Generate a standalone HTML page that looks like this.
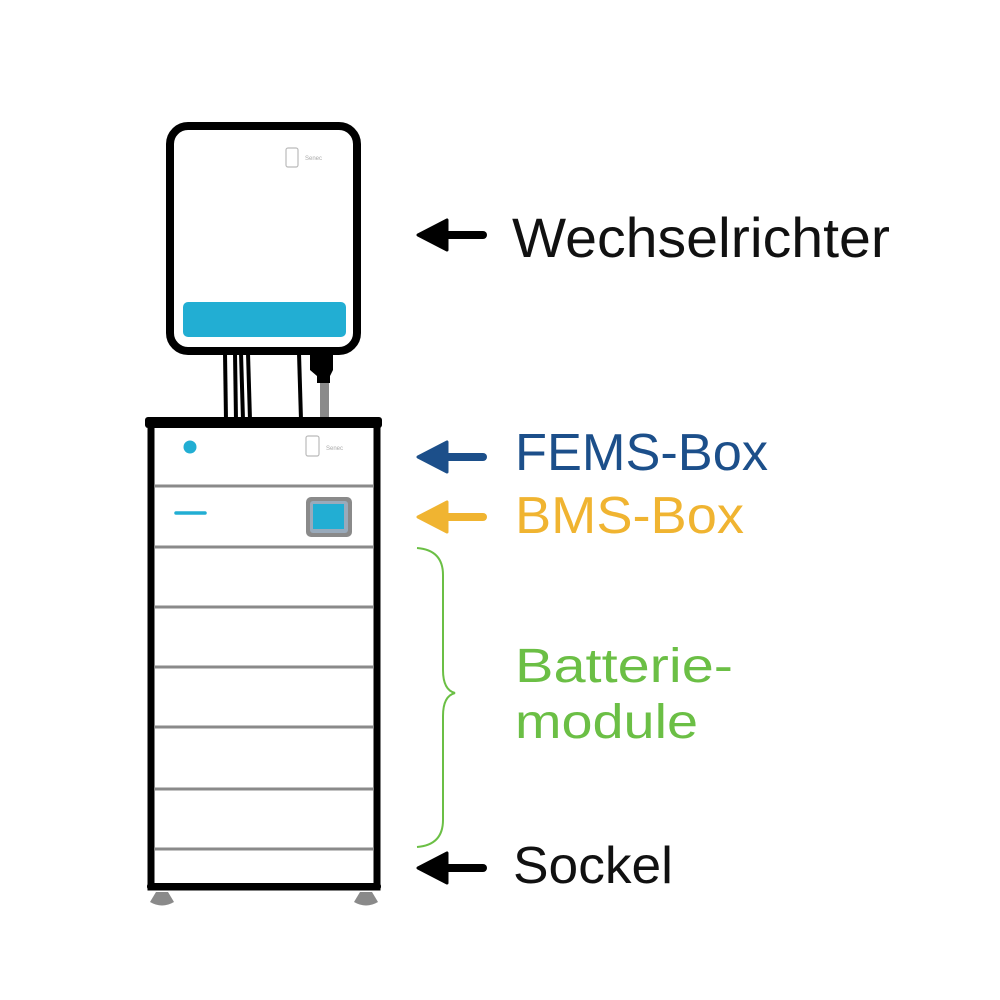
<!DOCTYPE html>
<html><head><meta charset="utf-8"><style>
html,body{margin:0;padding:0;background:#fff;}
svg{display:block;}
text{font-family:"Liberation Sans",sans-serif;}
</style></head><body>
<svg width="1000" height="1000" viewBox="0 0 1000 1000" xmlns="http://www.w3.org/2000/svg">
<rect width="1000" height="1000" fill="#fff"/>
<!-- cables -->
<g stroke="#000" stroke-width="4" fill="none">
<line x1="225" y1="353" x2="226" y2="420"/>
<line x1="235" y1="353" x2="236" y2="420"/>
<line x1="241" y1="353" x2="243" y2="420"/>
<line x1="248" y1="353" x2="250" y2="420"/>
<line x1="299" y1="353" x2="301" y2="420"/>
</g>
<rect x="320" y="380" width="9" height="40" fill="#8a8a8a"/>
<path d="M310 353 H333 V370 L330 376 V383 H317 V376 L310 370 Z" fill="#000"/>
<!-- inverter -->
<rect x="170" y="126" width="187" height="225" rx="18" ry="18" fill="#fff" stroke="#000" stroke-width="8"/>
<rect x="183" y="302" width="163" height="35" rx="5" fill="#22aed3"/>
<rect x="286" y="148" width="12" height="19" rx="2" fill="none" stroke="#bbb" stroke-width="1.2"/>
<text x="305" y="160" font-size="6" fill="#aaa">Senec</text>
<!-- cabinet -->
<rect x="151" y="424" width="226" height="463" fill="#fff" stroke="#000" stroke-width="7"/>
<rect x="145" y="417" width="237" height="11" rx="3" fill="#000"/>
<rect x="147" y="883" width="234" height="7" rx="3" fill="#000"/>
<g stroke="#8a8a8a" stroke-width="3">
<line x1="154" y1="486" x2="374" y2="486"/>
<line x1="154" y1="547" x2="374" y2="547"/>
<line x1="154" y1="607" x2="374" y2="607"/>
<line x1="154" y1="667" x2="374" y2="667"/>
<line x1="154" y1="727" x2="374" y2="727"/>
<line x1="154" y1="789" x2="374" y2="789"/>
<line x1="154" y1="849" x2="374" y2="849"/>
</g>
<circle cx="190" cy="447" r="6.5" fill="#22aed3"/>
<rect x="306" y="436" width="13" height="20" rx="2" fill="none" stroke="#bbb" stroke-width="1.2"/>
<text x="326" y="450" font-size="6" fill="#aaa">Senec</text>
<line x1="176" y1="513" x2="205" y2="513" stroke="#22aed3" stroke-width="3.5" stroke-linecap="round"/>
<rect x="306" y="497" width="46" height="40" rx="5" fill="#8a8a8a"/>
<rect x="310" y="501" width="38" height="32" rx="3" fill="#9ab"/>
<rect x="313" y="504" width="31" height="25" fill="#22aed3"/>
<!-- feet -->
<path d="M156 892 H168 L174 902 Q162 909 150 902 Z" fill="#8a8a8a"/>
<path d="M360 892 H372 L378 902 Q366 909 354 902 Z" fill="#8a8a8a"/>
<!-- arrows -->
<g>
<line x1="442" y1="235" x2="483" y2="235" stroke="#000" stroke-width="8" stroke-linecap="round"/>
<path d="M418 235 L447 220 L447 250 Z" fill="#000" stroke="#000" stroke-width="3" stroke-linejoin="round"/>
<line x1="442" y1="457" x2="483" y2="457" stroke="#1c4f8a" stroke-width="8" stroke-linecap="round"/>
<path d="M418 457 L447 442 L447 472 Z" fill="#1c4f8a" stroke="#1c4f8a" stroke-width="3" stroke-linejoin="round"/>
<line x1="442" y1="517" x2="483" y2="517" stroke="#f0b431" stroke-width="8" stroke-linecap="round"/>
<path d="M418 517 L447 502 L447 532 Z" fill="#f0b431" stroke="#f0b431" stroke-width="3" stroke-linejoin="round"/>
<line x1="442" y1="868" x2="483" y2="868" stroke="#000" stroke-width="8" stroke-linecap="round"/>
<path d="M418 868 L447 853 L447 883 Z" fill="#000" stroke="#000" stroke-width="3" stroke-linejoin="round"/>
</g>
<!-- brace -->
<path d="M417 548 Q443 550 443 575 V670 Q443 690 455 693 Q443 696 443 716 V820 Q443 845 417 847" fill="none" stroke="#6bbf45" stroke-width="2"/>
<!-- labels -->
<text x="512" y="257" font-size="56" fill="#111" textLength="378" lengthAdjust="spacingAndGlyphs">Wechselrichter</text>
<text x="515" y="470" font-size="52" fill="#1c4f8a" textLength="253" lengthAdjust="spacingAndGlyphs">FEMS-Box</text>
<text x="515" y="533" font-size="52" fill="#f0b431" textLength="229" lengthAdjust="spacingAndGlyphs">BMS-Box</text>
<text x="515" y="682" font-size="48" fill="#6bbf45" textLength="218" lengthAdjust="spacingAndGlyphs">Batterie-</text>
<text x="515" y="738" font-size="48" fill="#6bbf45" textLength="183" lengthAdjust="spacingAndGlyphs">module</text>
<text x="513" y="883" font-size="52" fill="#111" textLength="160" lengthAdjust="spacingAndGlyphs">Sockel</text>
</svg>
</body></html>
